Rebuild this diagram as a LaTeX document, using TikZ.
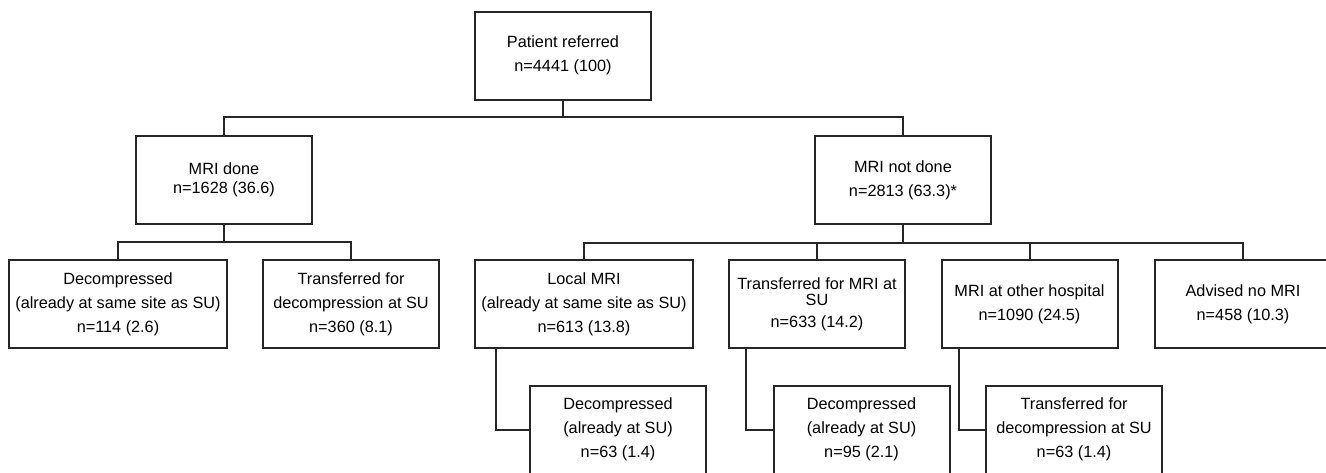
\documentclass[tikz,border=0pt]{standalone}
\usepackage{fontspec}
\setmainfont{Liberation Sans}
\begin{document}
\begin{tikzpicture}[x=0.75pt,y=-0.75pt,
  box/.style={draw=black!85, line width=1.5pt, minimum height=66pt, align=center,
    inner sep=0pt, text=black, font=\fontsize{12.2}{18}\selectfont},
  wbox/.style={box, minimum width=163.5pt},
  nbox/.style={box, minimum width=132pt},
  conn/.style={draw=black!85, line width=1.5pt}]
\useasboundingbox (0,0) rectangle (1326,472);
\clip (0,0) rectangle (1326,472);
\fill[white] (0,0) rectangle (1326,472);
% top levels
\node[nbox] (pr) at (563,55.5) {Patient referred\\n=4441 (100)};
\node[nbox] (md) at (224,180) {MRI done\\[-3.5pt]n=1628 (36.6)};
\node[nbox] (mn) at (903,180) {MRI not done\\n=2813 (63.3)*};
% second row
\node[wbox] (d1) at (118,304) {Decompressed\\(already at same site as SU)\\n=114 (2.6)};
\node[nbox] (t1) at (351,304) {Transferred for\\decompression at SU\\n=360 (8.1)};
\node[wbox] (lm) at (584,304) {Local MRI\\(already at same site as SU)\\n=613 (13.8)};
\node[nbox] (tm) at (817,304) {Transferred for MRI at\\[-6pt]SU\\[-1.5pt]n=633 (14.2)};
\node[nbox] (mo) at (1029.5,304) {MRI at other hospital\\n=1090 (24.5)};
\node[nbox] (an) at (1243,304) {Advised no MRI\\n=458 (10.3)};
% third row
\node[nbox] (b1) at (618,429.5) {Decompressed\\(already at SU)\\n=63 (1.4)};
\node[nbox] (b2) at (861.5,429.5) {Decompressed\\(already at SU)\\n=95 (2.1)};
\node[nbox] (b3) at (1074,429.5) {Transferred for\\decompression at SU\\n=63 (1.4)};
% buses
\coordinate (bus0) at (0,117);
\coordinate (bus1) at (0,242);
\coordinate (bus2) at (0,243);
\draw[conn] (pr.south) -- (pr.south |- bus0);
\draw[conn] (md.north) -- (md.north |- bus0) -- (mn.north |- bus0) -- (mn.north);
\draw[conn] (md.south) -- (md.south |- bus1);
\draw[conn] (d1.north) -- (d1.north |- bus1) -- (t1.north |- bus1) -- (t1.north);
\draw[conn] (mn.south) -- (mn.south |- bus2);
\draw[conn] (lm.north) -- (lm.north |- bus2) -- (an.north |- bus2) -- (an.north);
\draw[conn] (tm.north) -- (tm.north |- bus2);
\draw[conn] (mo.north) -- (mo.north |- bus2);
% elbows
\draw[conn] ([xshift=16.5pt]lm.south west) |- (b1.west);
\draw[conn] ([xshift=13.5pt]tm.south west) |- (b2.west);
\draw[conn] ([xshift=14pt]mo.south west) |- (b3.west);
\end{tikzpicture}
\end{document}
